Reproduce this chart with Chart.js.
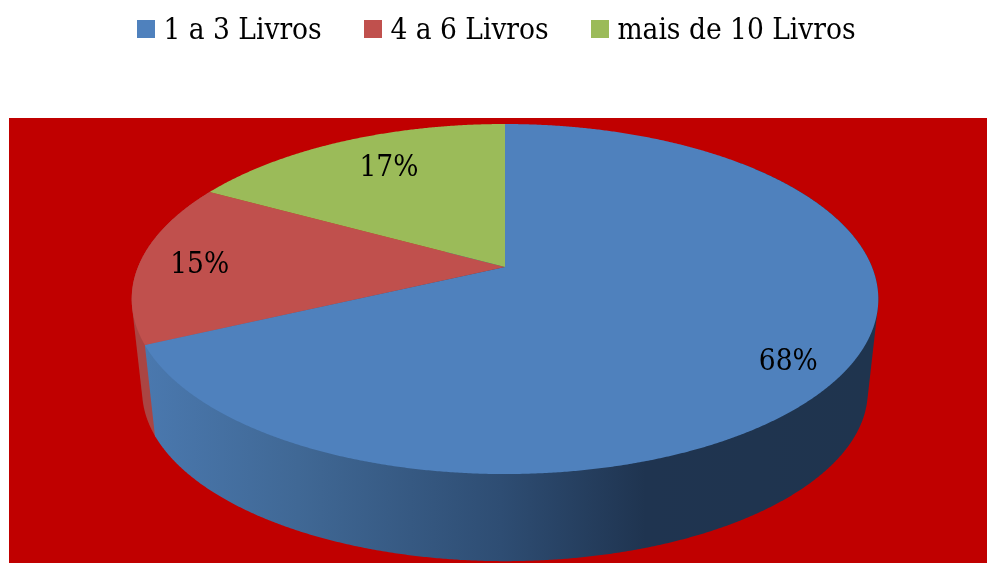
<!DOCTYPE html>
<html>
<head>
<meta charset="utf-8">
<style>html,body{margin:0;padding:0;background:#fff}canvas{display:block}</style>
<script src="https://cdn.jsdelivr.net/npm/chart.js@4"></script>
</head>
<body>
<canvas id="c" width="987" height="563"></canvas>
<script>
const categories = ['1 a 3 Livros', '4 a 6 Livros', 'mais de 10 Livros'];
const percentages = [68, 15, 17];
const sliceColors = ['#4f81bd', '#c0504d', '#9bbb59'];

const FONT = '"DejaVu Serif Condensed", "DejaVu Serif"';
const FONT_SIZE = 29.5;

// perspective projection of the pie's disc
const CX = 505, APEX_Y = 267, DX = 367, TILT = -0.183, DY = 120.3;
const DEPTH = 92, BASE_SCALE = 0.972, MID_Y = 299;
function project(theta, r) {
  const u = r * Math.sin(theta), t = -r * Math.cos(theta), d = 1 + TILT * t;
  return [CX + DX * u / d, (DY * t + APEX_Y) / d];
}
function projectBase(theta) {
  const p = project(theta, 1);
  return [CX + (p[0] - CX) * BASE_SCALE, MID_Y + (p[1] - MID_Y) * BASE_SCALE + DEPTH];
}
const toTheta = a => a + Math.PI / 2;

Chart.ArcElement.prototype.draw = function (ctx) {
  const a = toTheta(this.startAngle), b = toTheta(this.endAngle);
  ctx.save();
  ctx.beginPath();
  ctx.moveTo(CX, APEX_Y);
  const n = Math.ceil((b - a) / 0.005);
  for (let i = 0; i <= n; i++) {
    const p = project(a + (b - a) * i / n, 1);
    ctx.lineTo(p[0], p[1]);
  }
  ctx.closePath();
  ctx.fillStyle = this.options.backgroundColor;
  ctx.fill();
  ctx.restore();
};

function convexHull(points) {
  const pts = points.slice().sort((p, q) => p[0] - q[0] || p[1] - q[1]);
  const cross = (o, p, q) => (p[0] - o[0]) * (q[1] - o[1]) - (p[1] - o[1]) * (q[0] - o[0]);
  const half = list => {
    const h = [];
    for (const p of list) {
      while (h.length > 1 && cross(h[h.length - 2], h[h.length - 1], p) <= 0) h.pop();
      h.push(p);
    }
    h.pop();
    return h;
  };
  return half(pts).concat(half(pts.reverse()));
}

function wallPath(ctx, a, b) {
  const n = Math.ceil((b - a) / 0.005), pts = [];
  for (let i = 0; i <= n; i++) {
    const th = a + (b - a) * i / n;
    pts.push(project(th, 1), projectBase(th));
  }
  const hull = convexHull(pts);
  ctx.beginPath();
  hull.forEach((p, i) => (i ? ctx.lineTo(p[0], p[1]) : ctx.moveTo(p[0], p[1])));
  ctx.closePath();
}

const scene = {
  id: 'scene',
  beforeDraw(chart) {
    const ctx = chart.ctx;
    ctx.save();
    ctx.fillStyle = '#c00000';
    ctx.fillRect(9, 118, 978, 445);
    ctx.restore();
  },
  beforeDatasetsDraw(chart) {
    const ctx = chart.ctx, arcs = chart.getDatasetMeta(0).data;
    ctx.save();
    // red wall, visible only past the blue slice
    wallPath(ctx, toTheta(arcs[1].startAngle) - 0.01, toTheta(arcs[1].endAngle));
    ctx.fillStyle = '#aa4543';
    ctx.fill();
    // blue wall
    wallPath(ctx, toTheta(arcs[0].startAngle) + 0.8, toTheta(arcs[0].endAngle));
    const g = ctx.createLinearGradient(146, 0, 870, 0);
    g.addColorStop(0, '#4a78ae');
    g.addColorStop(0.21, '#406895');
    g.addColorStop(0.49, '#2e4d73');
    g.addColorStop(0.69, '#1f3450');
    g.addColorStop(1, '#1f344e');
    ctx.fillStyle = g;
    ctx.fill();
    ctx.restore();
  },
  afterDatasetsDraw(chart) {
    const ctx = chart.ctx, arcs = chart.getDatasetMeta(0).data;
    const nudges = [[-4, 11], [5, 3], [24, 10]];
    ctx.save();
    ctx.font = FONT_SIZE + 'px ' + FONT;
    ctx.fillStyle = '#000';
    ctx.textAlign = 'center';
    ctx.textBaseline = 'middle';
    arcs.forEach((arc, i) => {
      const mid = toTheta((arc.startAngle + arc.endAngle) / 2);
      const p = project(mid, 0.85);
      ctx.fillText(percentages[i] + '%', p[0] + nudges[i][0], p[1] + nudges[i][1]);
    });
    ctx.restore();
  }
};

function legendSwatch(color) {
  const s = document.createElement('canvas');
  s.width = 18; s.height = 22;
  const x = s.getContext('2d');
  x.fillStyle = color;
  x.fillRect(0, 0, 18, 18);
  return s;
}

new Chart(document.getElementById('c'), {
  type: 'pie',
  data: {
    labels: categories,
    datasets: [{
      data: percentages,
      backgroundColor: sliceColors,
      borderWidth: 0,
      clip: false
    }]
  },
  options: {
    responsive: false,
    animation: false,
    devicePixelRatio: 1,
    layout: { padding: { left: 12.75, right: 0, top: -33.25, bottom: 0 } },
    plugins: {
      tooltip: { enabled: false },
      legend: {
        position: 'top',
        labels: {
          usePointStyle: true,
          boxWidth: 4.5,
          padding: 49.5,
          color: '#000',
          font: { family: FONT, size: FONT_SIZE },
          generateLabels(chart) {
            return Chart.overrides.doughnut.plugins.legend.labels.generateLabels(chart).map(item => {
              item.pointStyle = legendSwatch(item.fillStyle);
              return item;
            });
          }
        }
      }
    }
  },
  plugins: [scene]
});
</script>
</body>
</html>
